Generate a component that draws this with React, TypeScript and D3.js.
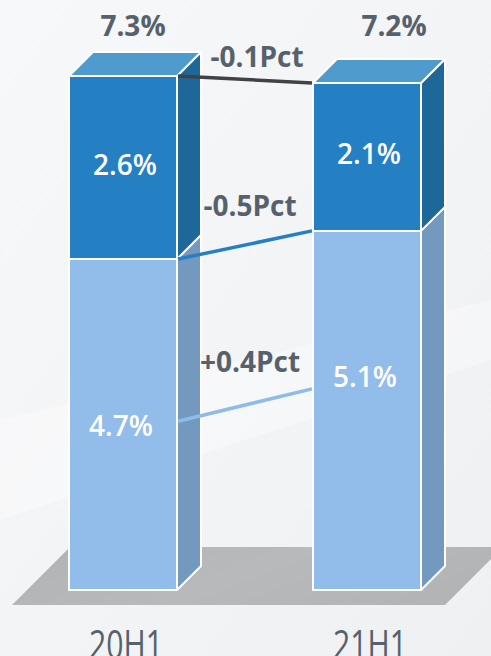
import React from "react";
import * as d3 from "d3";

const categories = ["20H1", "21H1"];
const bottomValues = [4.7, 5.1];
const topValues = [2.6, 2.1];
const totalValues = [7.3, 7.2];
const bottomLabels = ["4.7%", "5.1%"];
const topLabels = ["2.6%", "2.1%"];
const totalLabels = ["7.3%", "7.2%"];
const deltaLabels = ["-0.1Pct", "-0.5Pct", "+0.4Pct"];

const W = 491;
const H = 656;

export default function App() {
  const barW = 108;
  const depth = 24;
  const baseline = 590;
  const x = d3.scalePoint<string>().domain(categories).range([123, 367]);
  const y = d3.scaleLinear().domain([0, d3.max(totalValues) as number]).range([baseline, 76]);

  const font = "'Open Sans', 'Noto Sans', sans-serif";
  const grayText = "#56616c";
  const c = {
    topFront: "#2580c3",
    topTop: "#4f9bcd",
    topSide: "#1e6899",
    botFront: "#92bdea",
    botSide: "#7399bf",
  };

  const bars = categories.map((cat, i) => {
    const cx = x(cat) as number;
    const xl = cx - barW / 2;
    const xr = cx + barW / 2;
    const y0 = y(0);
    const ySplit = y(bottomValues[i]);
    const yTop = y(bottomValues[i] + topValues[i]);
    return { cat, i, cx, xl, xr, y0, ySplit, yTop };
  });

  const side = (xr: number, yLow: number, yHigh: number) =>
    `${xr},${yHigh} ${xr + depth},${yHigh - depth} ${xr + depth},${yLow - depth} ${xr},${yLow}`;
  const topFace = (xl: number, xr: number, yt: number) =>
    `${xl},${yt} ${xl + depth},${yt - depth} ${xr + depth},${yt - depth} ${xr},${yt}`;

  // floor
  const b0 = bars[0];
  const b1 = bars[1];
  const floorFront = baseline + 15;
  const floorDepth = 58;
  const fl = b0.xl - 57;
  const fr = b1.xr + depth;
  const floorPts = `${fl},${floorFront} ${fr},${floorFront} ${fr + floorDepth},${floorFront - floorDepth} ${fl + floorDepth},${floorFront - floorDepth}`;

  // connector lines (layout fractions of the bottom segment for line 3 / labels)
  const lineFrac = [0.51, 0.56];
  const labelFrac = [0.49, 0.59];
  const lines = [
    { y1: b0.yTop, y2: b1.yTop, color: "#404246", dy: 13, dx: 12 },
    { y1: b0.ySplit, y2: b1.ySplit, color: "#2580c3", dy: 29, dx: 5 },
    {
      y1: y(bottomValues[0] * lineFrac[0]),
      y2: y(bottomValues[1] * lineFrac[1]),
      color: "#8fbbe8",
      dy: 33,
      dx: 5,
    },
  ];
  const lx1 = b0.xr + 1;
  const lx2 = b1.xl - 1;
  const totalDx = [10, 27];

  return (
    <svg
      width={W}
      height={H}
      viewBox={`0 0 ${W} ${H}`}
      style={{ position: "absolute", left: 0, top: 0, display: "block" }}
    >
      <defs>
        <linearGradient id="bg" x1="0" y1="0" x2="1" y2="1">
          <stop offset="0" stopColor="#f7f8f9" />
          <stop offset="0.5" stopColor="#f3f4f6" />
          <stop offset="1" stopColor="#eef0f2" />
        </linearGradient>
        <linearGradient id="floor" x1="0" y1="0" x2="1" y2="0.3">
          <stop offset="0" stopColor="#b2b3b4" />
          <stop offset="0.55" stopColor="#b8b9ba" />
          <stop offset="1" stopColor="#b3b4b5" />
        </linearGradient>
      </defs>
      <rect x={0} y={0} width={W} height={H} fill="url(#bg)" />
      <polygon points={`0,420 ${W},300 ${W},360 0,520`} fill="#ffffff" opacity={0.35} />
      <polygon points={floorPts} fill="url(#floor)" />

      {bars.map((b) => (
        <g key={b.cat} stroke="#ffffff" strokeWidth={2} strokeLinejoin="round">
          <polygon points={side(b.xr, b.y0, b.ySplit)} fill={c.botSide} />
          <polygon points={side(b.xr, b.ySplit, b.yTop)} fill={c.topSide} />
          <rect x={b.xl} y={b.ySplit} width={barW} height={b.y0 - b.ySplit} fill={c.botFront} />
          <rect x={b.xl} y={b.yTop} width={barW} height={b.ySplit - b.yTop} fill={c.topFront} />
          <polygon points={topFace(b.xl, b.xr, b.yTop)} fill={c.topTop} />
        </g>
      ))}

      {lines.map((l, k) => (
        <line
          key={k}
          x1={lx1}
          y1={l.y1}
          x2={lx2}
          y2={l.y2}
          stroke={l.color}
          strokeWidth={3.5}
        />
      ))}

      {lines.map((l, k) => (
        <text
          key={"d" + k}
          x={(lx1 + lx2) / 2 + l.dx}
          y={(l.y1 + l.y2) / 2 - l.dy}
          textAnchor="middle"
          fontFamily={font}
          fontWeight={700}
          fontSize={28}
          fill={grayText}
        >
          {deltaLabels[k]}
        </text>
      ))}

      {bars.map((b) => (
        <g key={"t" + b.cat} fontFamily={font} fontSize={28} textAnchor="middle">
          <text x={b.cx + totalDx[b.i]} y={36} fontWeight={700} fill={grayText}>
            {totalLabels[b.i]}
          </text>
          <text
            x={b.cx + 2}
            y={(b.ySplit + b.yTop) / 2}
            fill="#ffffff"
            fontWeight={600}
            dominantBaseline="middle"
          >
            {topLabels[b.i]}
          </text>
          <text
            x={b.cx - 2}
            y={y(bottomValues[b.i] * labelFrac[b.i]) + 1}
            fill="#ffffff"
            fontWeight={600}
            dominantBaseline="middle"
          >
            {bottomLabels[b.i]}
          </text>
          <text
            x={b.cx + 3}
            y={659}
            fill={grayText}
            fontWeight={400}
            fontSize={40}
            textLength={74}
            lengthAdjust="spacingAndGlyphs"
          >
            {b.cat}
          </text>
        </g>
      ))}
    </svg>
  );
}
